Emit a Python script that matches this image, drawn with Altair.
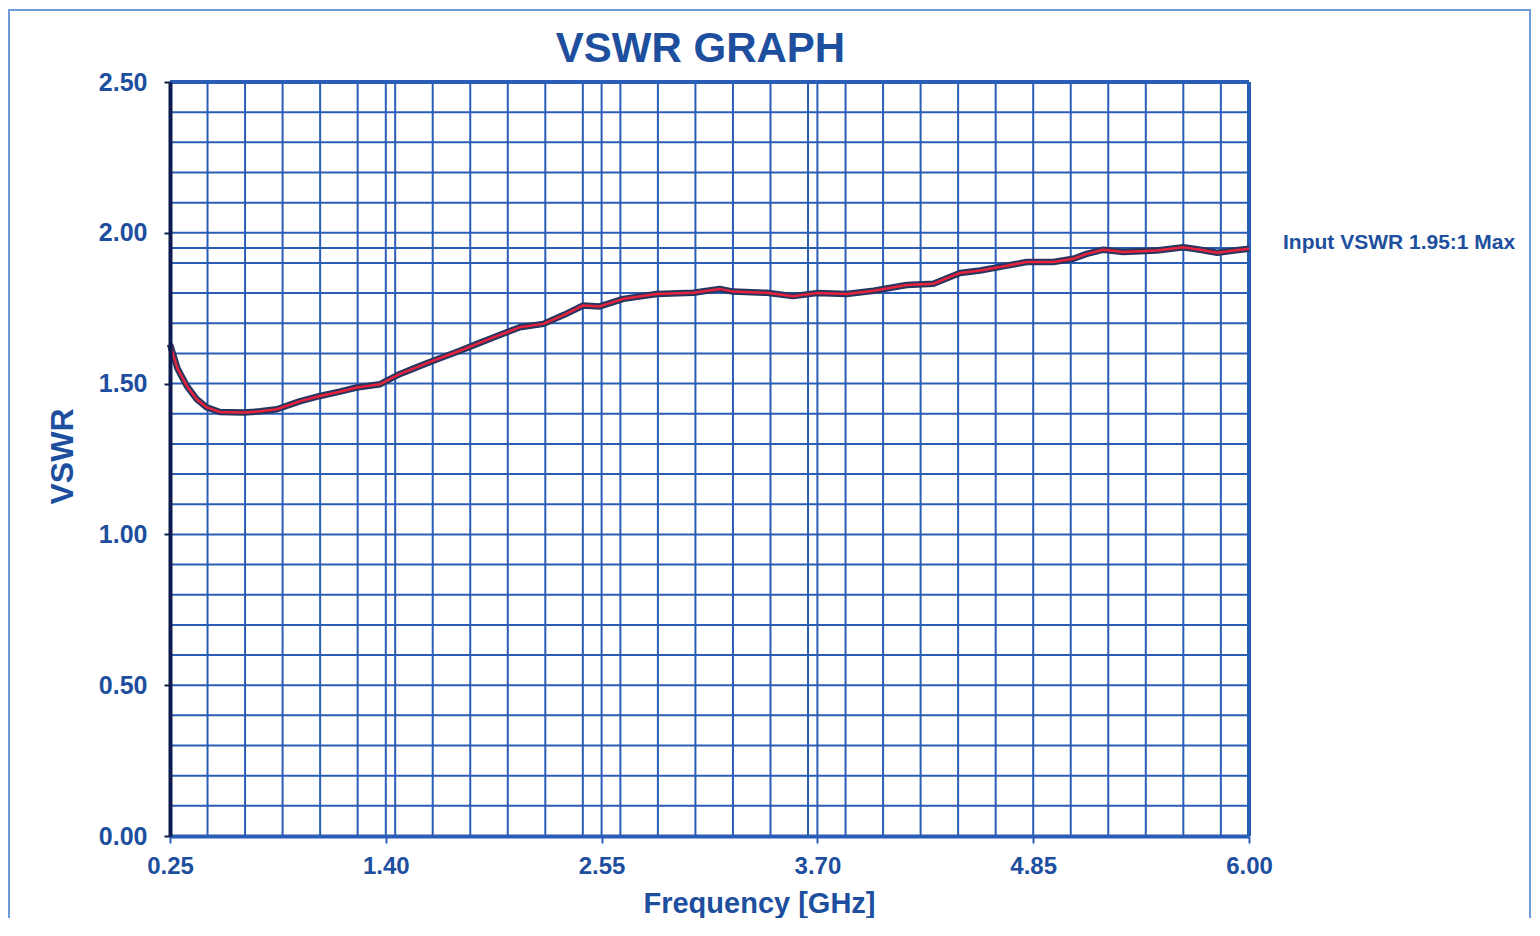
import altair as alt
import pandas as pd

# ---- data ----
freq_ghz = [0.25, 0.29, 0.339, 0.39, 0.446, 0.516, 0.64, 0.73, 0.82, 0.94, 1.05, 1.16,
            1.245, 1.37, 1.476, 1.56, 1.653, 1.795, 1.88, 1.973, 2.115, 2.24, 2.35,
            2.452, 2.54, 2.666, 2.844, 3.04, 3.18, 3.25, 3.43, 3.57, 3.696, 3.856,
            4.0, 4.176, 4.318, 4.46, 4.567, 4.71, 4.815, 4.957, 5.064, 5.135, 5.224,
            5.33, 5.508, 5.65, 5.74, 5.83, 5.92, 6.0]
vswr = [1.63, 1.55, 1.493, 1.45, 1.421, 1.406, 1.404, 1.408, 1.415, 1.441, 1.459, 1.474,
        1.487, 1.498, 1.532, 1.553, 1.576, 1.609, 1.63, 1.653, 1.687, 1.698, 1.728,
        1.759, 1.756, 1.781, 1.797, 1.801, 1.814, 1.805, 1.801, 1.79, 1.80, 1.797,
        1.808, 1.827, 1.831, 1.867, 1.875, 1.891, 1.903, 1.903, 1.914, 1.93, 1.944,
        1.936, 1.941, 1.952, 1.944, 1.934, 1.941, 1.947]

x_ticks = [0.25, 1.40, 2.55, 3.70, 4.85, 6.00]
y_ticks = [0.0, 0.5, 1.0, 1.5, 2.0, 2.5]
x_grid = [0.45, 0.65, 0.85, 1.05, 1.25, 1.40, 1.45, 1.65, 1.85, 2.05, 2.25, 2.45, 2.55,
          2.65, 2.85, 3.05, 3.25, 3.45, 3.65, 3.70, 3.85, 4.05, 4.25, 4.45, 4.65, 4.85,
          5.05, 5.25, 5.45, 5.65, 5.85]
y_grid = [0.1, 0.2, 0.3, 0.4, 0.5, 0.6, 0.7, 0.8, 0.9, 1.0, 1.1, 1.2, 1.3, 1.4, 1.5,
          1.6, 1.7, 1.8, 1.9, 1.95, 2.0, 2.1, 2.2, 2.3, 2.4]
note_text = ["Input VSWR 1.95:1 Max"]
note_freq = [6.00]
note_vswr = [1.95]
title_text = ["VSWR GRAPH"]

FONT = "Liberation Sans"
TXT = "#1d4f9e"
GRID = "#2a5db5"
W, H = 1079, 754

curve = pd.DataFrame({"f": freq_ghz, "v": vswr})
xgrid_df = pd.DataFrame({"f": x_grid})
ygrid_df = pd.DataFrame({"v": y_grid})
note_df = pd.DataFrame({"f": note_freq, "v": note_vswr, "t": note_text})
title_df = pd.DataFrame({"t": title_text})
one_df = pd.DataFrame({"a": [0]})

xscale = alt.Scale(domain=[0.25, 6.0], nice=False, zero=False)
yscale = alt.Scale(domain=[0, 2.5], nice=False, zero=True)

xaxis = alt.Axis(values=x_ticks, format=".2f", grid=False, domainColor=GRID,
                 domainWidth=4, tickColor=GRID, tickWidth=2, tickSize=7,
                 labelFont=FONT, labelFontSize=24, labelFontWeight="bold",
                 labelColor=TXT, labelPadding=11, labelFlush=False,
                 title="Frequency [GHz]", titleFont=FONT, titleFontSize=29,
                 titleFontWeight="bold", titleColor=TXT, titleX=589, titleY=76,
                 titleAlign="center", titleBaseline="alphabetic", zindex=1)
yaxis = alt.Axis(values=y_ticks, format=".2f", grid=False, domainColor="#0d1a50",
                 domainWidth=4, tickColor="#0d1a50", tickWidth=2, tickSize=6,
                 labelFont=FONT, labelFontSize=25, labelFontWeight="bold",
                 labelColor=TXT, labelPadding=17, labelFlush=False,
                 title="VSWR", titleFont=FONT, titleFontSize=32,
                 titleFontWeight="bold", titleColor=TXT, titleX=-98, titleY=374,
                 titleAlign="center", titleBaseline="alphabetic", zindex=1)

frame = alt.Chart(one_df).mark_rect(fillOpacity=0, stroke="#6f9bd8", strokeWidth=2).encode(
    x=alt.value(-161), x2=alt.value(W + 283 - 2), y=alt.value(-72), y2=alt.value(H + 200))

vgrid = alt.Chart(xgrid_df).mark_rule(color=GRID, strokeWidth=2).encode(
    x=alt.X("f:Q", scale=xscale, axis=xaxis))
hgrid = alt.Chart(ygrid_df).mark_rule(color=GRID, strokeWidth=2).encode(
    y=alt.Y("v:Q", scale=yscale, axis=yaxis))

top_border = alt.Chart(one_df).mark_rule(color=GRID, strokeWidth=4).encode(
    x=alt.value(0), x2=alt.value(W), y=alt.value(0))
right_border = alt.Chart(one_df).mark_rule(color=GRID, strokeWidth=4).encode(
    x=alt.value(W), y=alt.value(0), y2=alt.value(H))

dark = alt.Chart(curve).mark_line(color="#27365f", strokeWidth=6.5, strokeJoin="round").encode(
    x=alt.X("f:Q", scale=xscale, axis=xaxis), y=alt.Y("v:Q", scale=yscale, axis=yaxis))
red = alt.Chart(curve).mark_line(color="#e8213c", strokeWidth=2.5, strokeJoin="round").encode(
    x=alt.X("f:Q", scale=xscale), y=alt.Y("v:Q", scale=yscale))

note = alt.Chart(note_df).mark_text(align="left", baseline="middle", dx=34, dy=-5,
                                    font=FONT, fontSize=21, fontWeight="bold",
                                    color=TXT).encode(
    x=alt.X("f:Q", scale=xscale), y=alt.Y("v:Q", scale=yscale), text="t:N")

title = alt.Chart(title_df).mark_text(align="center", baseline="alphabetic",
                                      font=FONT, fontSize=42, fontWeight="bold",
                                      color=TXT).encode(
    x=alt.value(W / 2 - 9), y=alt.value(-20), text="t:N")

chart = alt.layer(frame, vgrid, hgrid, top_border, right_border, dark, red, note, title).properties(
    width=W, height=H,
    padding={"left": 162, "top": 74, "right": 283, "bottom": 82},
    autosize=alt.AutoSizeParams(type="none"),
).configure_view(stroke=None).configure(background="white")

chart.save("out.html", embed_options={"renderer": "svg", "actions": False})
